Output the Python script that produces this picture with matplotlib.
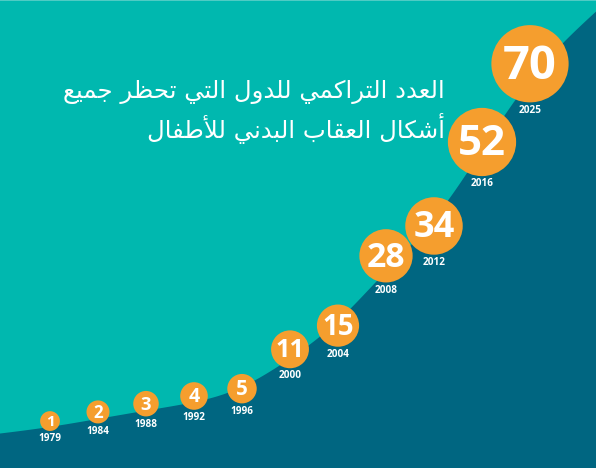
import numpy as np
import matplotlib
matplotlib.use("Agg")
import matplotlib.pyplot as plt

# data
years = ["1979", "1984", "1988", "1992", "1996", "2000", "2004", "2008", "2012", "2016", "2025"]
counts = [1, 2, 3, 4, 5, 11, 15, 28, 34, 52, 70]
title_lines = ["العدد التراكمي للدول التي تحظر جميع", "أشكال العقاب البدني للأطفال"]

TEAL = "#00b8af"
DARK = "#006681"
ORANGE = "#f59e2e"

# --- minimal arabic shaping (matplotlib has no complex text layout) ---
FORMS = {
    'ا': (0xFE8D, 2), 'أ': (0xFE83, 2), 'ب': (0xFE8F, 4), 'ت': (0xFE95, 4),
    'ج': (0xFE9D, 4), 'ح': (0xFEA1, 4), 'د': (0xFEA9, 2), 'ر': (0xFEAD, 2),
    'ش': (0xFEB5, 4), 'ط': (0xFEC1, 4), 'ظ': (0xFEC5, 4), 'ع': (0xFEC9, 4),
    'ف': (0xFED1, 4), 'ق': (0xFED5, 4), 'ك': (0xFED9, 4), 'ل': (0xFEDD, 4),
    'م': (0xFEE1, 4), 'ن': (0xFEE5, 4), 'و': (0xFEED, 2), 'ي': (0xFEF1, 4),
    'لا': (0xFEFB, 2), 'لأ': (0xFEF7, 2),
}


def shape_word(w):
    toks = []
    i = 0
    while i < len(w):
        if w[i] == 'ل' and i + 1 < len(w) and w[i + 1] in ('ا', 'أ'):
            toks.append(w[i:i + 2]); i += 2
        else:
            toks.append(w[i]); i += 1
    out = ""
    for j, t in enumerate(toks):
        if t not in FORMS:
            out += t
            continue
        cp, n = FORMS[t]
        prev = j > 0 and toks[j - 1] in FORMS and FORMS[toks[j - 1]][1] == 4
        nxt = n == 4 and j < len(toks) - 1
        k = 3 if (prev and nxt) else 1 if prev else 2 if nxt else 0
        out += chr(cp + k)
    return out


def shape(line):
    return " ".join(shape_word(w) for w in line.split(" "))[::-1]


# power scale for the counts
fwd = lambda c: np.sign(c) * np.abs(c) ** 0.8
inv = lambda v: np.sign(v) * np.abs(v) ** 1.25

fig = plt.figure(figsize=(5.96, 4.68), dpi=100)
fig.patch.set_facecolor(TEAL)
ax = fig.add_axes([0, 0, 1, 1])
ax.set_yscale("function", functions=(fwd, inv))
ax.axis("off")

idx = np.arange(len(counts))
v = fwd(np.array(counts, dtype=float))

# smooth area under the circles: interpolate, extend the ends, gaussian smooth
dx = 0.02
xs = np.arange(-5, 15, dx)
base = np.interp(xs, idx, v)
left = xs < 0
right = xs > idx[-1]
base[left] = v[0] + 0.6 * (v[1] - v[0]) * xs[left]
base[right] = v[-1] + 0.55 * (v[-1] - v[-2]) * (xs[right] - idx[-1])
k = np.arange(-3, 3 + dx, dx)
kern = np.exp(-0.5 * (k / 0.7) ** 2)
kern /= kern.sum()
smooth = np.convolve(base, kern, mode="same") - 0.55
keep = (xs > -1.5) & (xs < 12)
ax.fill_between(xs[keep], inv(smooth[keep]), -10, color=DARK, lw=0, zorder=1)

r_px = 6 + 3.9 * np.sqrt(counts)
r_pt = r_px * 0.72
ax.scatter(idx, counts, s=(2 * r_pt) ** 2, color=ORANGE, lw=0, zorder=3)

for i, (c, y) in enumerate(zip(counts, years)):
    fs = 3 + 0.8 * r_px[i]
    ax.annotate(str(c), (i, c), ha="center", va="center", color="white",
                fontsize=fs, fontweight="bold", family="Open Sans", zorder=4,
                xytext=(0, -fs * 0.06), textcoords="offset points")
    ax.annotate(y, (i, c), xytext=(0, -(r_pt[i] + 5.5)), textcoords="offset points",
                ha="center", va="center", color="white", fontsize=7.2,
                fontweight="bold", family="Open Sans", zorder=4)

ax.set_xlim(-1.0417, 11.375)
ax.set_ylim(-3.62, 85.4)

fig.text(0.747, 0.803, shape(title_lines[0]), ha="right", va="center",
         color="white", fontsize=17.6, family="DejaVu Sans")
fig.text(0.747, 0.726, shape(title_lines[1]), ha="right", va="center",
         color="white", fontsize=17.6, family="DejaVu Sans")

# thin light edge along the top
fig.add_artist(plt.Line2D([0, 1], [0.999, 0.999], color="#5fd0c9", lw=1.2,
                          transform=fig.transFigure))

fig.savefig("out.png", dpi=100, facecolor=TEAL)
